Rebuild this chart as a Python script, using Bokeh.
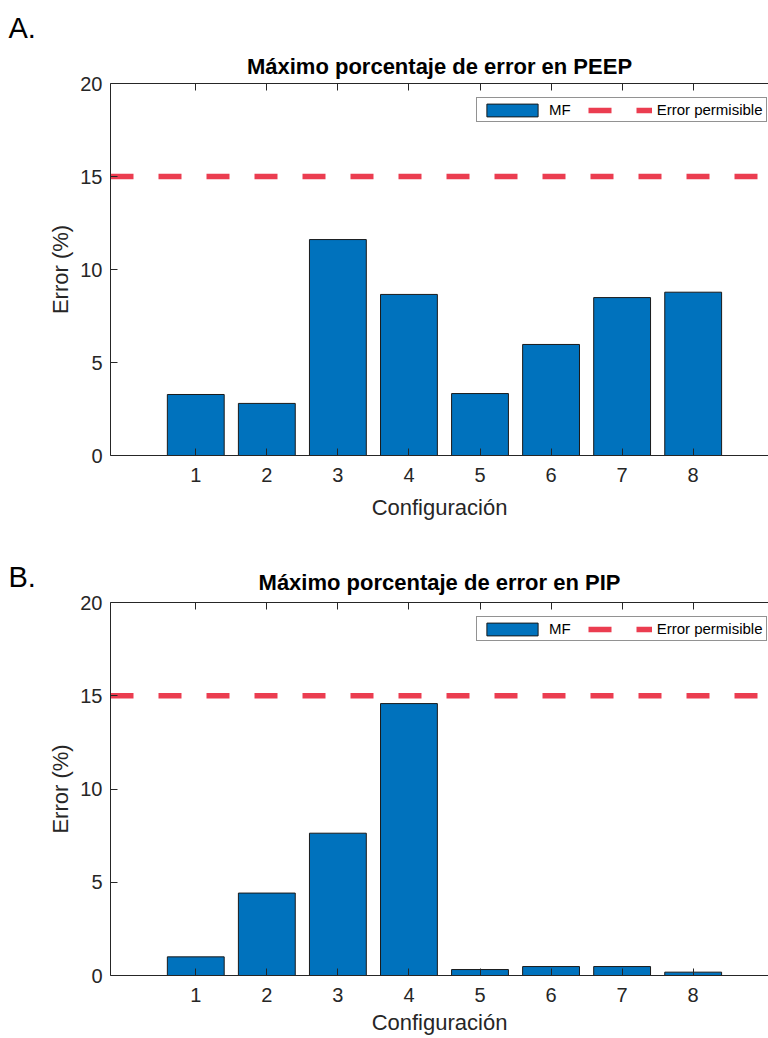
from bokeh.plotting import figure
from bokeh.models import (Range1d, FixedTicker, LinearAxis, Legend, LegendItem,
                          Title, CustomJSTickFormatter)
from bokeh.layouts import column
from bokeh.embed import file_html
from bokeh.resources import INLINE

# ---------------- data ----------------
configuraciones = [1, 2, 3, 4, 5, 6, 7, 8]
error_peep = [3.28, 2.80, 11.61, 8.66, 3.33, 5.97, 8.49, 8.78]
error_pip = [1.00, 4.42, 7.63, 14.58, 0.32, 0.48, 0.48, 0.18]
error_permisible = 15
y_ticks = [0, 5, 10, 15, 20]
x_ticks = configuraciones
titulos = ["Máximo porcentaje de error en PEEP", "Máximo porcentaje de error en PIP"]
paneles = ["A.", "B."]
serie_label = "MF"
limite_label = "Error permisible"
x_label = "Configuración"
y_label = "Error (%)"
x_min, x_max = -0.2, 9.06
y_min, y_max = 0, 20

FONT = "Liberation Sans"
AX = "#262626"
BAR = "#0072BD"
RED = "#EB3D50"
W = 768
LEFT = 110
FRAME_W = W - LEFT


def style_axis(ax, ticks):
    ax.ticker = FixedTicker(ticks=ticks)
    ax.axis_line_color = AX
    ax.axis_line_width = 1
    ax.major_tick_line_color = AX
    ax.major_tick_in = 7
    ax.major_tick_out = 0
    ax.minor_tick_line_color = None
    ax.major_label_text_font = FONT
    ax.major_label_text_font_size = "20px"
    ax.major_label_text_color = AX
    ax.axis_label_text_font = FONT
    ax.axis_label_text_font_size = "22px"
    ax.axis_label_text_font_style = "normal"
    ax.axis_label_text_color = AX


def make_panel(values, title, tag, frame_h, top_b, bottom_b,
               title_standoff, tag_standoff, label_standoff):
    p = figure(frame_width=FRAME_W, frame_height=frame_h,
               output_backend="svg", toolbar_location=None,
               x_range=Range1d(x_min, x_max), y_range=Range1d(y_min, y_max),
               min_border_left=LEFT, min_border_right=0,
               min_border_top=top_b, min_border_bottom=bottom_b,
               outline_line_color=None,
               background_fill_color="white", border_fill_color="white")
    p.xgrid.visible = False
    p.ygrid.visible = False

    bars = p.vbar(x=configuraciones, top=values, width=0.8, bottom=0,
                  fill_color=BAR, line_color="#1a1a1a", line_width=1)
    lim = p.line(x=[x_min, x_max], y=[error_permisible, error_permisible],
                 line_color=RED, line_width=5.5, line_dash="23 25")

    style_axis(p.xaxis[0], x_ticks)
    p.xaxis[0].major_label_standoff = 12
    p.xaxis[0].axis_label = x_label
    p.xaxis[0].axis_label_standoff = label_standoff
    style_axis(p.yaxis[0], y_ticks)
    p.yaxis[0].major_label_standoff = 8
    p.yaxis[0].axis_label = y_label
    p.yaxis[0].axis_label_standoff = 4

    top_ax = LinearAxis()
    style_axis(top_ax, x_ticks)
    top_ax.formatter = CustomJSTickFormatter(code="return ''")
    top_ax.major_label_standoff = 0
    p.add_layout(top_ax, "above")

    p.add_layout(Title(text=title, align="center", vertical_align="bottom",
                       standoff=title_standoff, text_font=FONT,
                       text_font_size="22px", text_font_style="bold",
                       text_color="black"), "above")
    p.add_layout(Title(text=tag, align="left", offset=-(LEFT - 8),
                       vertical_align="bottom", standoff=tag_standoff,
                       text_font=FONT, text_font_size="29px",
                       text_font_style="normal", text_color="black"), "above")

    legend = Legend(items=[LegendItem(label=serie_label, renderers=[bars]),
                           LegendItem(label=limite_label, renderers=[lim])],
                    orientation="horizontal",
                    location=(366, frame_h - 17 - 22))
    legend.label_text_font = FONT
    legend.label_text_font_size = "15px"
    legend.label_text_color = "black"
    legend.glyph_width = 64
    legend.glyph_height = 16
    legend.label_height = 16
    legend.label_standoff = 5
    legend.spacing = 17
    legend.padding = 3
    legend.margin = 0
    legend.border_line_color = AX
    legend.border_line_width = 1
    legend.background_fill_color = "white"
    legend.background_fill_alpha = 1
    p.add_layout(legend)
    return p


pA = make_panel(error_peep, titulos[0], paneles[0], 372, 83, 73, 8.6, 7.4, 10)
pB = make_panel(error_pip, titulos[1], "\n" + paneles[1], 373, 74, 63, 14.6, -64.6, 5)

layout = column(pA, pB, spacing=0)
open("out.html", "w").write(file_html(layout, INLINE))
